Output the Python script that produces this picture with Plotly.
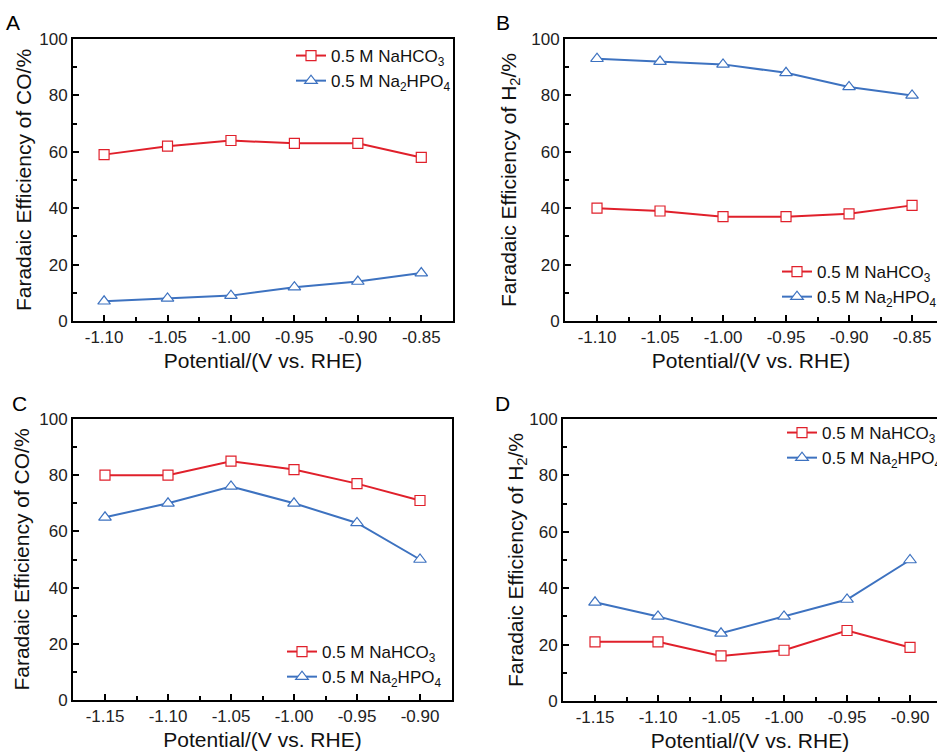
import plotly.graph_objects as go

W, H = 937, 752

# ---- data ----
x_ab = [-1.10, -1.05, -1.00, -0.95, -0.90, -0.85]
x_cd = [-1.15, -1.10, -1.05, -1.00, -0.95, -0.90]

a_nahco3 = [59, 62, 64, 63, 63, 58]
a_na2hpo4 = [7, 8, 9, 12, 14, 17]
b_nahco3 = [40, 39, 37, 37, 38, 41]
b_na2hpo4 = [93, 92, 91, 88, 83, 80]
c_nahco3 = [80, 80, 85, 82, 77, 71]
c_na2hpo4 = [65, 70, 76, 70, 63, 50]
d_nahco3 = [21, 21, 16, 18, 25, 19]
d_na2hpo4 = [35, 30, 24, 30, 36, 50]

ticks_ab = [-1.10, -1.05, -1.00, -0.95, -0.90, -0.85]
ticks_cd = [-1.15, -1.10, -1.05, -1.00, -0.95, -0.90]
name1 = "0.5 M NaHCO<sub>3</sub>"
name2 = "0.5 M Na<sub>2</sub>HPO<sub>4</sub>"

RED = "#e0202b"
BLUE = "#3d72c0"
FONT = "Liberation Sans, Arial, sans-serif"


def px(x):
    return x / W


def py(y):
    return 1 - y / H


fig = go.Figure()

panels = [
    dict(key="", x=x_ab, y1=a_nahco3, y2=a_na2hpo4, xd=(73, 453), yd=(39, 321),
         xr=[-1.1245, -0.825], ticks=ticks_ab, yt="Faradaic Efficiency of CO/%",
         leg=(291, 38), letter="A", lp=(13, 22), mirror_y=True, ys=2),
    dict(key="2", x=x_ab, y1=b_nahco3, y2=b_na2hpo4, xd=(565, 937), yd=(39, 321),
         xr=[-1.1254, -0.8302], ticks=ticks_ab, yt="Faradaic Efficiency of H<sub>2</sub>/%",
         leg=(777, 254), letter="B", lp=(503, 22), mirror_y=False, ys=9),
    dict(key="3", x=x_cd, y1=c_nahco3, y2=c_na2hpo4, xd=(73, 452), yd=(419, 700),
         xr=[-1.1754, -0.8746], ticks=ticks_cd, yt="Faradaic Efficiency of CO/%",
         leg=(282, 634), letter="C", lp=(19, 403), mirror_y=True, ys=4),
    dict(key="4", x=x_cd, y1=d_nahco3, y2=d_na2hpo4, xd=(563, 937), yd=(419, 701),
         xr=[-1.1754, -0.8786], ticks=ticks_cd, yt="Faradaic Efficiency of H<sub>2</sub>/%",
         leg=(782, 415), letter="D", lp=(503, 403), mirror_y=False, ys=0),
]

layout = dict(
    width=W, height=H,
    margin=dict(l=0, r=0, t=0, b=0, autoexpand=False),
    paper_bgcolor="white", plot_bgcolor="white",
    font=dict(family=FONT, color="#111111"),
    showlegend=True,
    annotations=[],
)

for p in panels:
    k = p["key"]
    xa = "x" + k
    ya = "y" + k
    legname = "legend" + k
    for yv, nm, col, sym, sz in [(p["y1"], name1, RED, "square", 10), (p["y2"], name2, BLUE, "triangle-up", 11)]:
        fig.add_trace(go.Scatter(
            x=p["x"], y=yv, name=nm, mode="lines+markers",
            xaxis=xa, yaxis=ya, legend=legname,
            line=dict(color=col, width=2),
            marker=dict(symbol=sym, size=sz, color="white", line=dict(width=1.2, color=col)),
            legendgroup=nm,
        ))
    axis_common = dict(showline=True, linecolor="black", linewidth=2, showgrid=False, zeroline=False,
                       ticks="inside", ticklen=6, tickwidth=2, tickcolor="black", automargin=False,
                       tickfont=dict(size=17, family=FONT, color="#222222"))
    layout["xaxis" + k] = dict(
        domain=[px(p["xd"][0]), px(p["xd"][1])], range=p["xr"], anchor=ya,
        tickvals=p["ticks"], ticktext=["%.2f" % t for t in p["ticks"]],
        mirror=True,
        minor=dict(ticks="inside", ticklen=4, tickwidth=2, tickcolor="black",
                   tickvals=[t + 0.025 for t in p["ticks"]] + [p["ticks"][0] - 0.025]),
        title=dict(text="Potential/(V vs. RHE)", font=dict(size=21, family=FONT, color="#111111"), standoff=7),
        **axis_common,
    )
    layout["yaxis" + k] = dict(
        domain=[py(p["yd"][1]), py(p["yd"][0])], range=[0, 100], anchor=xa,
        tickvals=[0, 20, 40, 60, 80, 100],
        mirror=p["mirror_y"],
        minor=dict(ticks="inside", ticklen=4, tickwidth=2, tickcolor="black",
                   tickvals=[10, 30, 50, 70, 90]),
        title=dict(text=p["yt"], font=dict(size=21, family=FONT, color="#111111"), standoff=p["ys"]),
        **axis_common,
    )
    layout[legname] = dict(
        x=px(p["leg"][0]), y=py(p["leg"][1]), xanchor="left", yanchor="top",
        bgcolor="rgba(0,0,0,0)", borderwidth=0,
        font=dict(size=17, family=FONT, color="#111111"),
        tracegroupgap=5, traceorder="normal",
    )
    layout["annotations"].append(dict(
        text=p["letter"], x=px(p["lp"][0]), y=py(p["lp"][1]), xref="paper", yref="paper",
        xanchor="center", yanchor="middle", showarrow=False,
        font=dict(size=21, family=FONT, color="black"),
    ))

fig.update_layout(**layout)
fig.write_html("out.html", config={"displayModeBar": False},
               post_script="document.body.style.margin='0';document.body.style.overflow='hidden';")
